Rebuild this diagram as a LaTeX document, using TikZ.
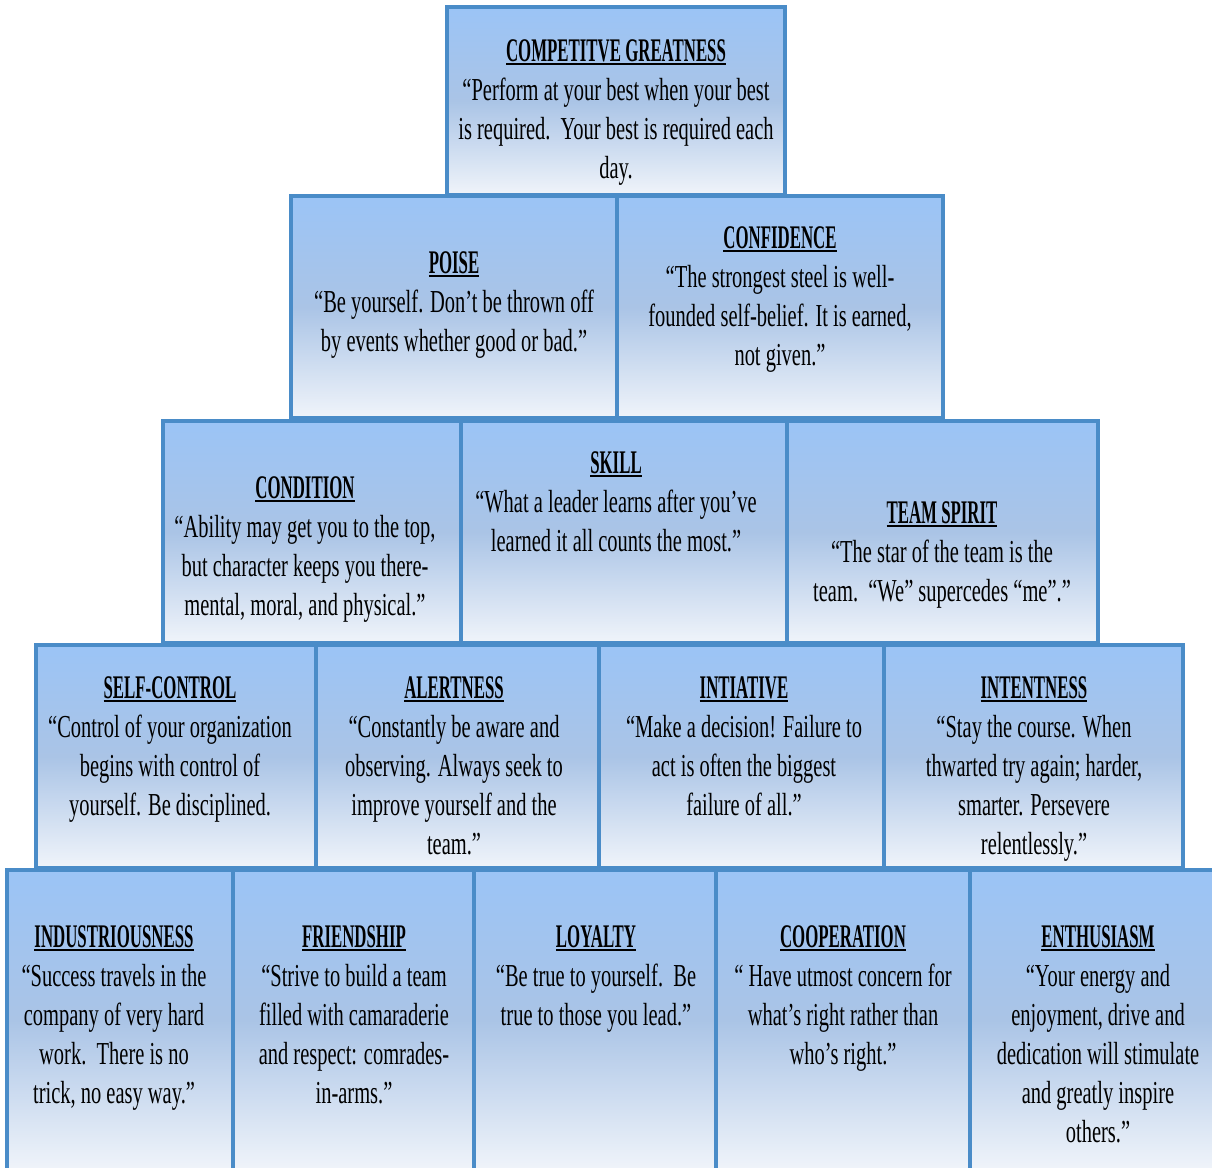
\documentclass[tikz,border=0pt]{standalone}
\usepackage{fontspec}
\setmainfont[FakeStretch=0.64]{Liberation Serif}
\newfontfamily\ttlfont[FakeStretch=0.51]{Liberation Serif}
\newcommand\ttl[1]{{\ttlfont\bfseries\fontsize{33}{39}\selectfont\setbox0\hbox{#1}\rlap{\rule[-3.5pt]{\wd0}{2pt}}\box0}}
\definecolor{bordc}{RGB}{74,140,200}
\definecolor{topc}{RGB}{155,196,246}
\definecolor{midc}{RGB}{170,196,230}
\definecolor{botc}{RGB}{240,244,250}
\tikzset{
  box/.style={draw=bordc, line width=3.2pt, top color=topc, bottom color=botc, middle color=midc, inner sep=0pt, outer sep=0pt},
  txt/.style={align=center, anchor=base, inner sep=0pt, text=black, font=\fontsize{32}{39}\selectfont}
}
\newcommand\bx[5]{\node[box,minimum width={(#4-#2)*1pt},minimum height={(#5-#3)*1pt}] (#1) at ({(#2+#4)/2},{(#3+#5)/2}) {};}
\begin{document}
\begin{tikzpicture}[x=1pt,y=-1pt]
\useasboundingbox (0,0) rectangle (1212,1167);
\fill[white] (0,0) rectangle (1212,1167);
% row 1
\bx{b1}{447}{7}{785}{195}
% row 2
\bx{b2}{291}{196}{617}{418}
\bx{b3}{617}{196}{943}{418}
% row 3
\bx{b4}{163}{421}{461}{643}
\bx{b5}{461}{421}{787}{643}
\bx{b6}{787}{421}{1098}{643}
% row 4
\bx{b7}{36}{645}{316}{868}
\bx{b8}{316}{645}{599}{868}
\bx{b9}{599}{645}{884}{868}
\bx{b10}{884}{645}{1183}{868}
% row 5
\bx{b11}{7}{870}{233}{1170}
\bx{b12}{233}{870}{474}{1170}
\bx{b13}{474}{870}{716}{1170}
\bx{b14}{716}{870}{970}{1170}
\bx{b15}{970}{870}{1214}{1170}

% anchor = baseline of the last line
\node[txt] (t1) at (616,178) {\ttl{COMPETITVE GREATNESS}\\“Perform at your best when your best\\is required.\ \ Your best is required each\\day.};
\node[txt] (t2) at (454,351) {\ttl{POISE}\\“Be yourself. Don’t be thrown off\\by events whether good or bad.”};
\node[txt] (t3) at (780,365) {\ttl{CONFIDENCE}\\“The strongest steel is well-\\founded self-belief. It is earned,\\not given.”};
\node[txt] (t4) at (305,615) {\ttl{CONDITION}\\“Ability may get you to the top,\\but character keeps you there-\\mental, moral, and physical.”};
\node[txt] (t5) at (616,551) {\ttl{SKILL}\\“What a leader learns after you’ve\\learned it all counts the most.”};
\node[txt] (t6) at (942,601) {\ttl{TEAM SPIRIT}\\“The star of the team is the\\team.\ \ “We” supercedes “me”.”};
\node[txt] (t7) at (170,815) {\ttl{SELF-CONTROL}\\“Control of your organization\\begins with control of\\yourself. Be disciplined.};
\node[txt] (t8) at (454,854) {\ttl{ALERTNESS}\\“Constantly be aware and\\observing. Always seek to\\improve yourself and the\\team.”};
\node[txt] (t9) at (744,815) {\ttl{INTIATIVE}\\“Make a decision! Failure to\\act is often the biggest\\failure of all.”};
\node[txt] (t10) at (1034,854) {\ttl{INTENTNESS}\\“Stay the course. When\\thwarted try again; harder,\\smarter. Persevere\\relentlessly.”};
\node[txt] (t11) at (114,1103) {\ttl{INDUSTRIOUSNESS}\\“Success travels in the\\company of very hard\\work.\ \ There is no\\trick, no easy way.”};
\node[txt] (t12) at (354,1103) {\ttl{FRIENDSHIP}\\“Strive to build a team\\filled with camaraderie\\and respect: comrades-\\in-arms.”};
\node[txt] (t13) at (596,1025) {\ttl{LOYALTY}\\“Be true to yourself.\ \ Be\\true to those you lead.”};
\node[txt] (t14) at (843,1064) {\ttl{COOPERATION}\\“ Have utmost concern for\\what’s right rather than\\who’s right.”};
\node[txt] (t15) at (1098,1142) {\ttl{ENTHUSIASM}\\“Your energy and\\enjoyment, drive and\\dedication will stimulate\\and greatly inspire\\others.”};
\end{tikzpicture}
\end{document}
